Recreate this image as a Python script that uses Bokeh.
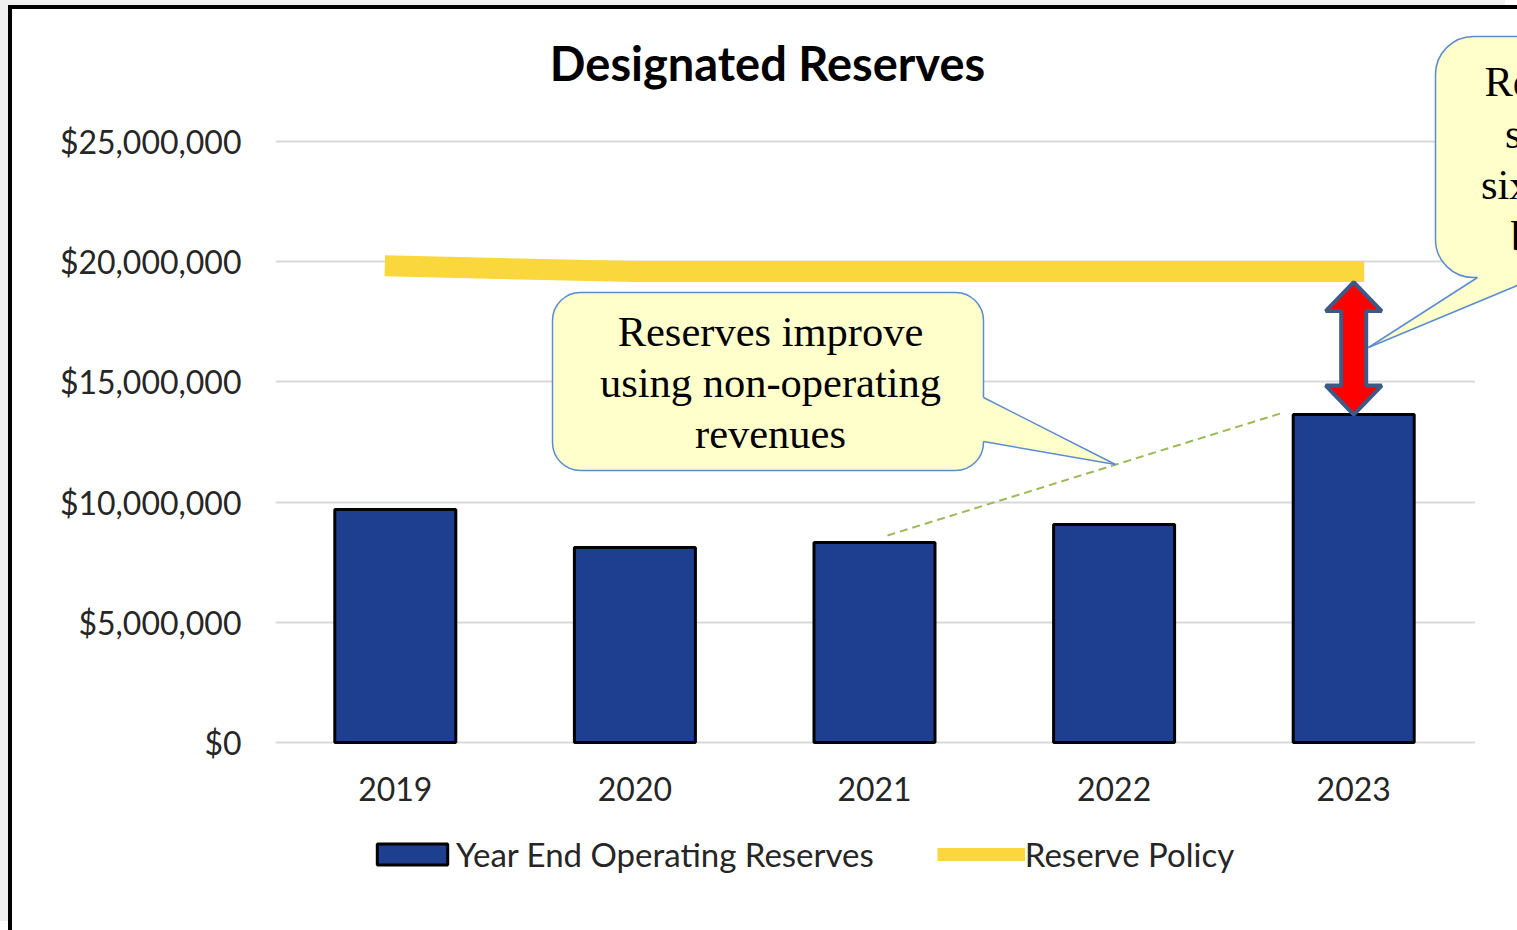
from bokeh.plotting import figure
from bokeh.models import (Range1d, FixedTicker, NumeralTickFormatter, Legend,
                          LegendItem, BoxAnnotation, PolyAnnotation, Label, Arrow)
from bokeh.embed import file_html
from bokeh.resources import INLINE

# ---------------- data ----------------
years = ["2019", "2020", "2021", "2022", "2023"]
reserves = [9.69e6, 8.11e6, 8.32e6, 9.07e6, 13.64e6]
policy = [19.82e6, 19.59e6, 19.59e6, 19.59e6, 19.59e6]
y_ticks = [0, 5e6, 10e6, 15e6, 20e6, 25e6]
title_text = "Designated Reserves"
series_names = ["Year End Operating Reserves", "Reserve Policy"]
callout1_lines = ["Reserves improve", "using non-operating", "revenues"]
callout2_lines = ["Reserves remain", "short of stated", "six-month policy", "by $6 million"]

# category slot centres (one slot per year)
xpos = [i + 0.5 for i in range(len(years))]

# ---------------- geometry / styles ----------------
PX0, PY0 = 12, 9                 # page position of the canvas (inside the frame border)
W = 1517 - PX0
FRAME_LEFT_PAGE = 275
BB = 48
FRAME_H = 930 - PY0 - BB
FRAME_BOTTOM_PAGE = PY0 + FRAME_H
BL = FRAME_LEFT_PAGE - PX0
FRAME_W = W - BL
PXU = (1473 - 275) / len(years)  # px per category slot
ZERO_PAGE, TOP_PAGE = 742, 141
PXY = (ZERO_PAGE - TOP_PAGE) / 25e6
XAXIS_PAGE = 776


def ux(px):
    return (px - FRAME_LEFT_PAGE) / PXU


def vy(py):
    return (ZERO_PAGE - py) / PXY


BAR_COLOR = "#1e3f90"
POLICY_COLOR = "#fad73c"
POLICY_LW = 21
CALLOUT_FILL = "#ffffcc"
CALLOUT_LINE = "#5b8bd0"
SANS = "Lato"
SERIF = "Liberation Serif"
TEXT_COLOR = "#262626"
SERIF_SIZE = 42.5
SERIF_MID = 0.3375 * SERIF_SIZE
TITLE_SIZE = 47

p = figure(frame_width=FRAME_W, frame_height=FRAME_H,
           x_range=Range1d(ux(FRAME_LEFT_PAGE), ux(PX0 + W)),
           y_range=Range1d(vy(FRAME_BOTTOM_PAGE), vy(PY0)), output_backend="svg",
           toolbar_location=None, min_border_left=BL, min_border_right=0,
           min_border_top=0, min_border_bottom=BB)
p.outline_line_color = None
p.background_fill_color = "white"
p.border_fill_color = "white"
p.styles = {"margin-left": "8px", "margin-top": "5px",
            "border-left": "4px solid black", "border-top": "4px solid black",
            "box-shadow": "-12px -9px 0 0 #f0f0f0"}

# axes
p.xaxis.ticker = FixedTicker(ticks=xpos)
p.xaxis.major_label_overrides = {x: y for x, y in zip(xpos, years)}
p.xaxis.fixed_location = vy(XAXIS_PAGE)
p.yaxis.ticker = FixedTicker(ticks=y_ticks)
p.yaxis.formatter = NumeralTickFormatter(format="$0,0")
for ax in (p.xaxis[0], p.yaxis[0]):
    ax.axis_line_color = None
    ax.major_tick_line_color = None
    ax.minor_tick_line_color = None
    ax.major_tick_out = 0
    ax.major_tick_in = 0
    ax.major_label_text_font = SANS
    ax.major_label_text_color = TEXT_COLOR
    ax.major_label_text_font_size = "32px"
p.yaxis.major_label_standoff = 34
p.xaxis.major_label_standoff = 0

p.xgrid.grid_line_color = None
p.ygrid.grid_line_color = "#d9d9d9"
p.ygrid.grid_line_width = 2

# data marks
bars = p.vbar(x=xpos, top=reserves, width=0.505, fill_color=BAR_COLOR,
              line_color="black", line_width=3)
pol_key = p.line(x=xpos, y=policy, line_width=13, line_color=POLICY_COLOR)
pol = p.line(x=xpos, y=policy, line_width=POLICY_LW, line_color=POLICY_COLOR,
             line_cap="square")

GW = 88
legend = Legend(items=[LegendItem(label=series_names[0], renderers=[bars]),
                       LegendItem(label=series_names[1], renderers=[pol_key])],
                orientation="horizontal",
                location=(int(377 - GW * 0.1 - FRAME_LEFT_PAGE), 8),
                glyph_width=GW, glyph_height=26, label_standoff=0, spacing=63,
                padding=0, margin=0, border_line_color=None, background_fill_alpha=0,
                label_text_font=SANS, label_text_font_size="33px",
                label_text_color=TEXT_COLOR)
p.add_layout(legend)

# grid lines stop at the end of the category area
p.add_layout(BoxAnnotation(left=ux(1474.5), right=ux(1700), top=vy(290), bottom=vy(1000),
                           fill_color="white", fill_alpha=1, line_color=None))

# title
p.add_layout(Label(x=ux(767), y=vy(81 - 0.387 * TITLE_SIZE), text=title_text,
                   text_align="center", text_baseline="middle", text_font=SANS,
                   text_font_style="bold", text_font_size=f"{TITLE_SIZE}px",
                   text_color="black"))

# dashed trend line
p.add_layout(Arrow(end=None, x_start=ux(887), y_start=vy(535), x_end=ux(1283), y_end=vy(412),
                   line_color="#9bbb59", line_width=2, line_dash="8 5"))


def callout(box, radius, fill_pts, edge_a, edge_b, tip):
    l, t, r, b = box
    p.add_layout(BoxAnnotation(left=ux(l), right=ux(r), top=vy(t), bottom=vy(b),
                               fill_color=CALLOUT_FILL, fill_alpha=1, line_color=CALLOUT_LINE,
                               line_alpha=1, line_width=1.5, border_radius=radius))
    p.add_layout(PolyAnnotation(xs=[ux(a) for a, _ in fill_pts], ys=[vy(c) for _, c in fill_pts],
                                fill_color=CALLOUT_FILL, fill_alpha=1, line_color=None))
    for e in (edge_a, edge_b):
        p.add_layout(Arrow(end=None, x_start=ux(e[0]), y_start=vy(e[1]), x_end=ux(tip[0]),
                           y_end=vy(tip[1]), line_color=CALLOUT_LINE, line_width=1.5))


def text_lines(lines, cx, baselines):
    for line, base in zip(lines, baselines):
        p.add_layout(Label(x=ux(cx), y=vy(base - SERIF_MID), text=line, text_align="center",
                           text_baseline="middle", text_font=SERIF,
                           text_font_size=f"{SERIF_SIZE}px", text_color="black"))


# callout 1
callout((552, 292, 983, 470), 28,
        [(978, 397.5), (983, 397), (1115, 464), (983, 441), (978, 440.5)],
        (983, 397), (983, 441), (1115, 464))
text_lines(callout1_lines, 770, [345, 396, 447])

# callout 2
callout((1435, 36, 1866, 277), 38,
        [(1477, 274), (1477, 277), (1368, 347), (1536, 277), (1536, 274)],
        (1477, 277), (1536, 277), (1368, 347))
text_lines(callout2_lines, 1625, [95, 147, 198, 250])

# red double arrow between 2023 reserves and policy
i23 = years.index("2023")
xc = xpos[i23]
top_tip = policy[i23] - (POLICY_LW / 2) / PXY
bot_tip = reserves[i23]
hw_head, hw_shaft, hh = 28 / PXU, 12.5 / PXU, 29 / PXY
axs = [xc, xc + hw_head, xc + hw_shaft, xc + hw_shaft, xc + hw_head,
       xc, xc - hw_head, xc - hw_shaft, xc - hw_shaft, xc - hw_head]
ays = [top_tip, top_tip - hh, top_tip - hh, bot_tip + hh, bot_tip + hh,
       bot_tip, bot_tip + hh, bot_tip + hh, top_tip - hh, top_tip - hh]
p.add_layout(PolyAnnotation(xs=axs, ys=ays, fill_color="#ff0000", fill_alpha=1,
                            line_color="#3c5a88", line_alpha=1, line_width=4))

open("out.html", "w").write(file_html(p, INLINE))
